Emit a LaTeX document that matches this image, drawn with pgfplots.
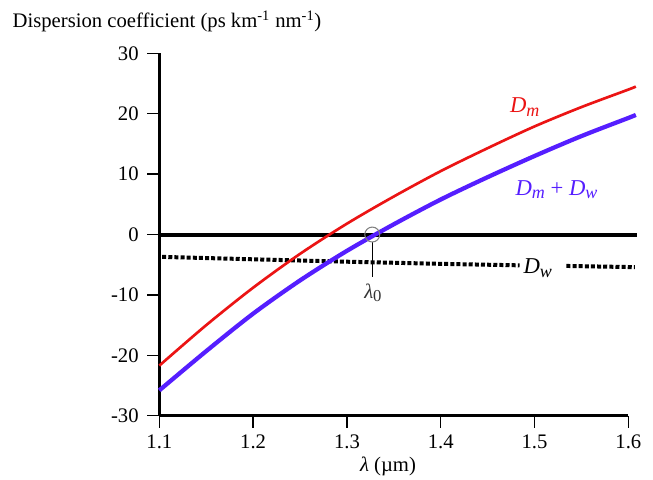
\documentclass[border=0pt]{standalone}
\usepackage{pgfplots}
\pgfplotsset{compat=1.18}
\usepackage{fontspec}
\setmainfont{LiberationSerif-Regular.ttf}[ItalicFont=LiberationSerif-Italic.ttf, BoldFont=LiberationSerif-Bold.ttf]
\definecolor{dmred}{RGB}{235,20,20}
\definecolor{dmblue}{RGB}{85,30,255}
\newcommand\sub[1]{\raisebox{-0.35ex}{\fontsize{13.5}{13.5}\selectfont\itshape #1}}
\begin{document}
\begin{tikzpicture}
\path[use as bounding box] (-119.5pt,-47.5pt) rectangle (370.25pt,311.8pt);
\begin{axis}[
  scale only axis, width=351.75pt, height=271.8pt,
  xmin=1.1, xmax=1.6, ymin=-30, ymax=30,
  axis x line*=bottom, axis y line*=left,
  axis line style={line width=2.3pt, -},
  xtick={1.1,1.2,1.3,1.4,1.5,1.6},
  xticklabels={1.1,1.2,1.3,1.4,1.5,1.6},
  ytick={-30,-20,-10,0,10,20,30},
  yticklabels={-30,-20,-10,0,10,20,30},
  tick align=outside, major tick length=9pt,
  tick style={line width=1pt, black},
  every tick label/.append style={font=\fontsize{15.5}{18}\selectfont},
  yticklabel style={xshift=-3pt},
  xticklabel style={yshift=-2pt},
  clip=false,
]
\addplot[black, line width=3pt, forget plot] coordinates {(1.1,0) (1.609,0)};
\addplot[black, line width=3pt, dash pattern=on 3pt off 1.6pt] coordinates {
 (1.103,-3.7) (1.2,-4.1) (1.3,-4.5) (1.4,-4.85) (1.484,-5.1)};
\addplot[black, line width=3pt, dash pattern=on 3pt off 1.6pt] coordinates {
 (1.534,-5.2) (1.607,-5.4)};
\addplot[dmred, line width=2pt, smooth] coordinates {
 (1.1,-21.7) (1.15,-15.0) (1.2,-8.8) (1.25,-3.2) (1.3,1.8) (1.35,6.3)
 (1.4,10.5) (1.45,14.3) (1.5,17.9) (1.55,21.1) (1.6,24.0) (1.608,24.5)};
\addplot[dmblue, line width=3.2pt, smooth] coordinates {
 (1.1,-25.8) (1.15,-19.3) (1.2,-13.1) (1.25,-7.6) (1.3,-2.7) (1.35,1.7)
 (1.4,5.8) (1.45,9.5) (1.5,13.0) (1.55,16.3) (1.6,19.3) (1.608,19.8)};
\addplot[only marks, mark=o, mark size=5.6pt, mark options={draw=gray, line width=0.8pt}] coordinates {(1.327,0)};
\addplot[black, line width=0.8pt] coordinates {(1.327,-1.2) (1.327,-7.1)};
\node[dmred, font=\fontsize{17}{17}\selectfont] at (axis cs:1.4896,21.1) {\textit{D}\sub{m}};
\node[dmblue, font=\fontsize{17}{17}\selectfont] at (axis cs:1.5234,7.45) {\textit{D}\sub{m} + \textit{D}\sub{w}};
\node[black, font=\fontsize{17}{17}\selectfont] at (axis cs:1.5035,-5.6) {\textit{D}\sub{w}};
\node[black!80, font=\fontsize{15.5}{15.5}\selectfont] at (axis cs:1.3277,-9.7) {\textit{λ}\raisebox{-0.35ex}{\fontsize{12.5}{12.5}\selectfont 0}};
\end{axis}
\node[anchor=base west, font=\fontsize{15.5}{18}\selectfont] at (-113.5pt,291.5pt) {Dispersion coefficient (ps km\textsuperscript{-1} nm\textsuperscript{-1})};
\node[font=\fontsize{15.5}{18}\selectfont] at (171.5pt,-37.7pt) {\textit{λ} (µm)};
\end{tikzpicture}
\end{document}
